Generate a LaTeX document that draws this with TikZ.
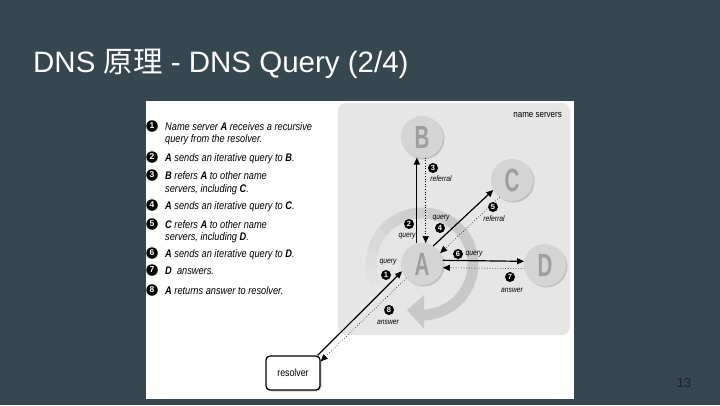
\documentclass[tikz,border=0pt]{standalone}
\usepackage{fontspec}
\setmainfont{Liberation Sans}
\newfontfamily\cjkfont{Noto Sans CJK TC}
\newfontfamily\narrowfont[FakeStretch=0.84]{Liberation Sans}
\newfontfamily\letterfont[FakeStretch=0.64]{Liberation Sans}
\usepackage{tikz}
\usetikzlibrary{positioning,arrows.meta,calc,shadows}
\definecolor{slate}{RGB}{55,71,79}
\definecolor{panelgray}{RGB}{230,230,230}
\definecolor{ballgray}{RGB}{212,212,212}
\definecolor{lettergray}{RGB}{158,158,158}
\definecolor{arcgray}{RGB}{200,200,200}
\definecolor{pagenum}{RGB}{25,34,39}

\begin{document}
\begin{tikzpicture}[x=1pt, y=-1pt,
  stepnum/.style={circle, fill=black, text=white, inner sep=0pt, minimum size=10pt, font=\bfseries\fontsize{7.5}{7.5}\selectfont},
  listnum/.style={stepnum, minimum size=11.5pt, font=\bfseries\fontsize{8.5}{8.5}\selectfont},
  item/.style={anchor=base west, inner sep=0pt, font=\narrowfont\itshape\fontsize{11}{12}\selectfont},
  tag/.style={inner sep=0pt, font=\narrowfont\itshape\fontsize{8}{8}\selectfont},
  server/.style={circle, fill=ballgray, minimum size=42pt, inner sep=0pt, text=lettergray, font=\letterfont\bfseries\fontsize{32}{32}\selectfont, drop shadow={shadow xshift=1.5pt, shadow yshift=-1.5pt, opacity=0.35}},
  querya/.style={draw=black, line width=1.2pt, -{Triangle[length=7pt,width=6pt]}},
  replya/.style={draw=black, line width=0.6pt, dotted, -{Triangle[length=7pt,width=6pt]}},
  bigarc/.style={line width=11pt}
]
\useasboundingbox (0,0) rectangle (720,405);
\fill[slate] (0,0) rectangle (720,405);

% title
\node[anchor=base west, inner sep=0pt, text=white, font=\fontsize{29.5}{30}\selectfont] (title) at (33,72) {DNS {\cjkfont 原理} - DNS Query (2/4)};

% figure
\fill[white] (146,101) rectangle (574,399);
\fill[panelgray, rounded corners=8pt] (338,103) rectangle (570,335);
\node[anchor=base east, inner sep=0pt, font=\narrowfont\fontsize{9.5}{10}\selectfont] (nslbl) at (562,117) {name servers};

% steps
\node[listnum] (n1) at (152,126) {1};
\node[item] (t1) at (165,130) {Name server \textbf{A} receives a recursive};
\node[item] (t1b) at (165,142) {query from the resolver.};
\node[listnum] (n2) at (152,157) {2};
\node[item] (t2) at (165,161) {\textbf{A} sends an iterative query to \textbf{B}.};
\node[listnum] (n3) at (152,175) {3};
\node[item] (t3) at (165,179) {\textbf{B} refers \textbf{A} to other name};
\node[item] (t3b) at (165,192) {servers, including \textbf{C}.};
\node[listnum] (n4) at (152,205) {4};
\node[item] (t4) at (165,209) {\textbf{A} sends an iterative query to \textbf{C}.};
\node[listnum] (n5) at (152,224) {5};
\node[item] (t5) at (165,228) {\textbf{C} refers \textbf{A} to other name};
\node[item] (t5b) at (165,240) {servers, including \textbf{D}.};
\node[listnum] (n6) at (152,253) {6};
\node[item] (t6) at (165,257) {\textbf{A} sends an iterative query to \textbf{D}.};
\node[listnum] (n7) at (152,270) {7};
\node[item] (t7) at (165,274) {\textbf{D}\ \ answers.};
\node[listnum] (n8) at (152,290) {8};
\node[item] (t8) at (165,294) {\textbf{A} returns answer to resolver.};

% circular arrow round A
\coordinate (actr) at (422,264);
\foreach \a/\b/\c in {-205/-185/12, -185/-165/28, -165/-140/45, -140/-115/62}
  \draw[bigarc, draw=arcgray!\c!panelgray] ($(actr)+(\a:51)$) arc[start angle=\a, end angle=\b, radius=51];
\draw[bigarc, draw=arcgray!80!panelgray] ($(actr)+(-115:51)$) arc[start angle=-115, end angle=-60, radius=51];
\draw[bigarc, draw=arcgray] ($(actr)+(-60:51)$) arc[start angle=-60, end angle=91, radius=51];
\fill[arcgray] ($(actr)+(2,31)$) -- ($(actr)+(-15,46)$) -- ($(actr)+(2,65)$) -- cycle;

% servers
\node[server] (A) at (actr) {A};
\node[server] (B) at (422,137) {B};
\node[server] (C) at (512,180) {C};
\node[server] (D) at (545,265) {D};
\node[draw, line width=1.3pt, rounded corners=4pt, fill=white, minimum width=54pt, minimum height=34pt, font=\narrowfont\fontsize{10.5}{11}\selectfont, drop shadow={shadow xshift=1.5pt, shadow yshift=-1.5pt, opacity=0.35}] (resolver) at (293,373) {resolver};

% messages
\draw[querya] ([xshift=-3pt]resolver.north east) -- (A.200);
\draw[replya] (A.222) -- ([yshift=-6pt]resolver.north east);
\draw[querya] (A.104) -- (B.256);
\draw[replya] (B.280) -- (A.80);
\draw[querya] (A.58) -- (C.208);
\draw[replya] (C.234) -- (A.31);
\draw[querya] (A.10) -- (D.170);
\draw[replya] (D.190) -- (A.-10);

% labels
\node[tag] (q1) at (388,262) {query};
\node[stepnum] (m1) at (386,275) {1};
\node[stepnum] (m2) at (409,224) {2};
\node[tag] (q2) at (407,236) {query};
\node[stepnum] (m3) at (433,168) {3};
\node[tag] (r3) at (441,179) {referral};
\node[tag] (q4) at (441,218) {query};
\node[stepnum] (m4) at (440,228) {4};
\node[stepnum] (m5) at (493,207) {5};
\node[tag] (r5) at (494,219) {referral};
\node[stepnum] (m6) at (458,254) {6};
\node[tag] (q6) at (474,254) {query};
\node[stepnum] (m7) at (510,277) {7};
\node[tag] (a7) at (512,290) {answer};
\node[stepnum] (m8) at (389,310) {8};
\node[tag] (a8) at (388,322) {answer};

% page number
\node[text=pagenum, font=\fontsize{13}{13}\selectfont, inner sep=0pt] (pg) at (684,383) {13};
\end{tikzpicture}
\end{document}
